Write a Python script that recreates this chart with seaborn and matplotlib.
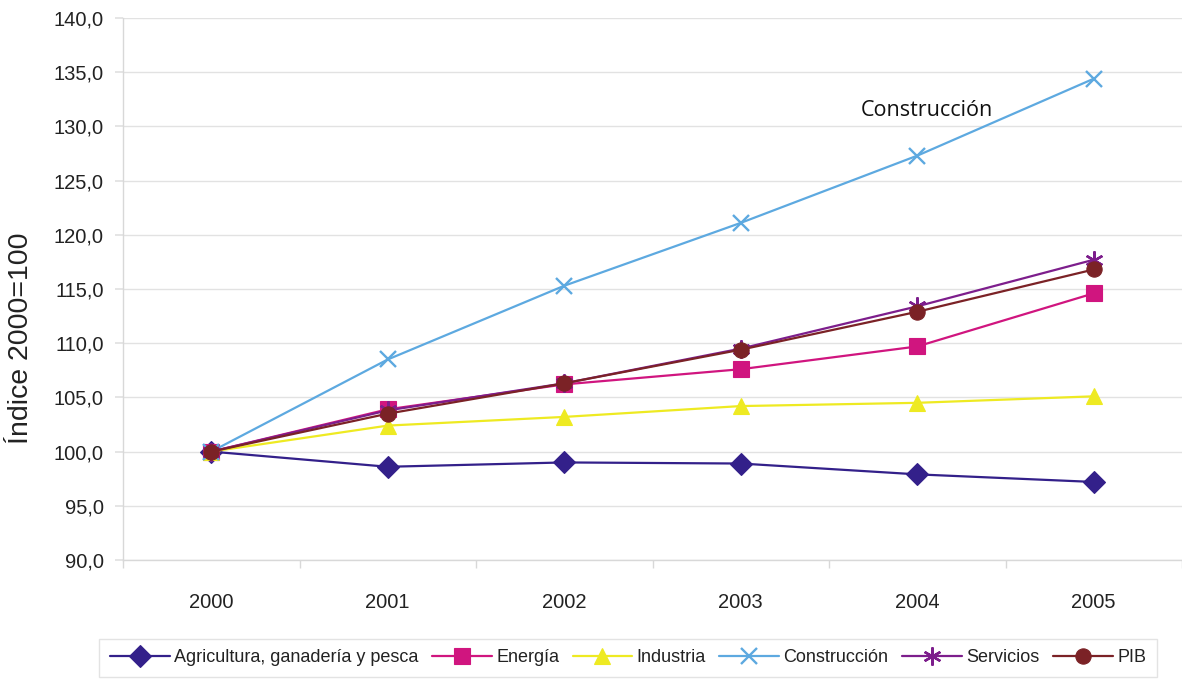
import matplotlib
matplotlib.use("Agg")
import matplotlib.pyplot as plt
from matplotlib.ticker import FuncFormatter, FixedLocator
import seaborn as sns
import pandas as pd

# Índices de producción por sector (base 2000 = 100)
years = ["2000", "2001", "2002", "2003", "2004", "2005"]
agricultura = [100.0, 98.6, 99.0, 98.9, 97.9, 97.2]
energia = [100.0, 103.9, 106.2, 107.6, 109.7, 114.6]
industria = [100.0, 102.4, 103.2, 104.2, 104.5, 105.1]
construccion = [100.0, 108.5, 115.3, 121.1, 127.3, 134.4]
servicios = [100.0, 103.8, 106.3, 109.5, 113.4, 117.7]
pib = [100.0, 103.5, 106.3, 109.4, 112.9, 116.8]

series_names = ["Agricultura, ganadería y pesca", "Energía", "Industria",
                "Construcción", "Servicios", "PIB"]
series_values = [agricultura, energia, industria, construccion, servicios, pib]
colors = ["#33208A", "#D0157F", "#EEEA22", "#5DA9E0", "#7D1E8C", "#7B2226"]
markers = ["D", "s", "^", "x", (6, 2, 0), "o"]
marker_sizes = [11, 11, 12, 12, 13, 11]

sns.set_theme(style="white")
plt.rcParams["font.family"] = ["Liberation Sans", "DejaVu Sans"]

fig = plt.figure(figsize=(11.82, 6.83), dpi=100)
ax = fig.add_axes([123 / 1182, 1 - 560 / 683, 1 - 123 / 1182, (560 - 18) / 683])

x_pos = list(range(len(years)))
for name, vals, col, mk, ms in zip(series_names, series_values, colors, markers, marker_sizes):
    df = pd.DataFrame({"x": x_pos, "y": vals})
    sns.lineplot(data=df, x="x", y="y", ax=ax, color=col, linewidth=1.6,
                 marker=mk, markersize=ms, markeredgecolor=col,
                 markeredgewidth=1.7 if mk in ("x", (6, 2, 0)) else 0.8,
                 label=name, sort=False)

ax.set_xlim(-0.5, len(years) - 0.5)
ax.set_ylim(90, 140)
ax.set_yticks([90 + 5 * i for i in range(11)])
ax.yaxis.set_major_formatter(FuncFormatter(lambda v, p: f"{v:.1f}".replace(".", ",")))
ax.set_xticks(x_pos)
ax.set_xticklabels(years)
ax.xaxis.set_minor_locator(FixedLocator([i + 0.5 for i in range(-1, len(years))]))

grid_col = "#E2E2E2"
ax.grid(axis="y", color=grid_col, linewidth=1.0)
ax.set_axisbelow(True)
for side in ("top", "right"):
    ax.spines[side].set_visible(False)
for side in ("left", "bottom"):
    ax.spines[side].set_color("#D8D8D8")
    ax.spines[side].set_linewidth(1.0)

ax.tick_params(axis="y", which="major", length=6, color=grid_col, labelsize=14.5,
               labelcolor="#222222", pad=8, left=True)
ax.tick_params(axis="x", which="major", length=0, labelsize=14.5, labelcolor="#222222", pad=24)
ax.tick_params(axis="x", which="minor", length=6, color="#D8D8D8", bottom=True)

ax.set_xlabel("")
ax.set_ylabel("Índice 2000=100", fontsize=20.5, color="#222222")
ax.yaxis.set_label_coords(-0.084, 0.41)

ax.text(3.68, 131.5, "Construcción", fontsize=15.5, family=["Open Sans", "DejaVu Sans"],
        color="#111111", ha="left", va="center")

handles, labels = ax.get_legend_handles_labels()
ax.legend_.remove()
leg = fig.legend(handles, labels, loc="center", bbox_to_anchor=(628 / 1182, 1 - 658 / 683),
                 ncol=6, frameon=True, fontsize=13.0, handlelength=3.3, handletextpad=0.25,
                 columnspacing=0.75, borderpad=0.6, fancybox=False)
leg.get_frame().set_edgecolor("#DDDDDD")
leg.get_frame().set_linewidth(1.0)
for t in leg.get_texts():
    t.set_color("#222222")

fig.savefig("out.png", dpi=100, facecolor="white")
